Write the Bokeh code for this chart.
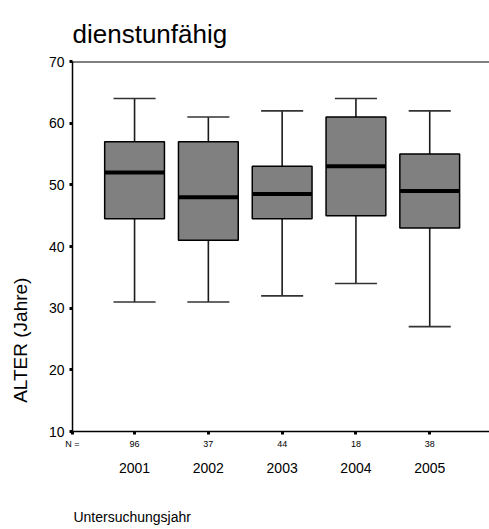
from bokeh.plotting import figure
from bokeh.models import Range1d, LinearAxis, FixedTicker, Span
from bokeh.embed import file_html
from bokeh.resources import INLINE

# ---- data ----
years = ["2001", "2002", "2003", "2004", "2005"]
counts = [96, 37, 44, 18, 38]
lower = [31, 31, 32, 34, 27]
q1 = [44.5, 41, 44.5, 45, 43]
median = [52, 48, 48.5, 53, 49]
q3 = [57, 57, 53, 61, 55]
upper = [64, 61, 62, 64, 62]
y_ticks = [10, 20, 30, 40, 50, 60, 70]

title_text = "dienstunfähig"
y_label = "ALTER (Jahre)"
x_label = "Untersuchungsjahr"
n_label = "N ="

FONT = "Liberation Sans"
W, H = 489, 529

xs = list(range(1, len(years) + 1))
X0, X1 = 0.159, 5.81
Y0, Y1 = 10, 70

p = figure(width=W, height=H, x_range=Range1d(X0, X1), y_range=Range1d(Y0, Y1),
           output_backend="svg", toolbar_location=None,
           x_axis_location=None, y_axis_location=None,
           min_border_left=72, min_border_top=61, min_border_bottom=98,
           min_border_right=0, title=title_text)
p.outline_line_color = None
p.xgrid.visible = False
p.ygrid.visible = False
p.background_fill_color = "white"
p.border_fill_color = "white"

p.title.align = "left"
p.title.text_font = FONT
p.title.text_font_size = "26px"
p.title.text_font_style = "normal"
p.title.text_color = "black"
p.title.standoff = 26


def plain_axis(ticks, labels, size, standoff, orientation="horizontal"):
    ax = LinearAxis(ticker=FixedTicker(ticks=ticks), major_label_overrides=labels)
    ax.axis_line_color = None
    ax.major_tick_line_color = None
    ax.minor_tick_line_color = None
    ax.major_label_standoff = standoff
    ax.major_label_text_font = FONT
    ax.major_label_text_font_size = size
    ax.major_label_text_color = "black"
    ax.major_label_orientation = orientation
    return ax


# y axis
ya = LinearAxis(ticker=FixedTicker(ticks=y_ticks))
ya.axis_line_color = "black"
ya.axis_line_width = 1.5
ya.major_tick_in = 0
ya.major_tick_out = 3
ya.major_tick_line_width = 3
ya.major_tick_line_color = "black"
ya.minor_tick_line_color = None
ya.major_label_standoff = 5
ya.major_label_text_font = FONT
ya.major_label_text_font_size = "14px"
ya.major_label_text_color = "black"
p.add_layout(ya, "left")

# y axis title as a single rotated label on an extra left axis
ylab_pos = 24.8
p.add_layout(plain_axis([ylab_pos], {ylab_pos: y_label}, "19px", 8, "vertical"), "left")

# counts axis (first below), with "N =" at the left frame edge
ca_ticks = [X0] + xs
ca_labels = {X0: n_label}
ca_labels.update({x: str(c) for x, c in zip(xs, counts)})
ca = LinearAxis(ticker=FixedTicker(ticks=ca_ticks), major_label_overrides=ca_labels)
ca.axis_line_color = "black"
ca.axis_line_width = 1.5
ca.major_tick_in = 0
ca.major_tick_out = 3
ca.major_tick_line_width = 3
ca.major_tick_line_color = "black"
ca.minor_tick_line_color = None
ca.major_label_standoff = 4
ca.major_label_text_font = FONT
ca.major_label_text_font_size = "9px"
ca.major_label_text_color = "black"
p.add_layout(ca, "below")

# years axis (second below)
p.add_layout(plain_axis(xs, {x: y for x, y in zip(xs, years)}, "14px", 5), "below")

# x axis title as a single label on a third below axis (left part of the plot)
xlab_pos = 0.968
p.add_layout(plain_axis([xlab_pos], {xlab_pos: x_label}, "14px", 27), "below")

# top frame line
p.add_layout(Span(location=Y1, dimension="width", line_color="black", line_width=2))

# whiskers
p.segment(x0=xs, y0=lower, x1=xs, y1=q1, line_color="#1a1a1a", line_width=1.6)
p.segment(x0=xs, y0=q3, x1=xs, y1=upper, line_color="#1a1a1a", line_width=1.6)
cap = 0.285
p.segment(x0=[x - cap for x in xs], y0=lower, x1=[x + cap for x in xs], y1=lower,
          line_color="#333333", line_width=1.6)
p.segment(x0=[x - cap for x in xs], y0=upper, x1=[x + cap for x in xs], y1=upper,
          line_color="#333333", line_width=1.6)
# boxes
p.vbar(x=xs, bottom=q1, top=q3, width=0.81, fill_color="#808080",
       line_color="black", line_width=1.5)
# medians
hw = 0.405
p.segment(x0=[x - hw for x in xs], y0=median, x1=[x + hw for x in xs], y1=median,
          line_color="black", line_width=4)

open("out.html", "w").write(file_html(p, INLINE))
